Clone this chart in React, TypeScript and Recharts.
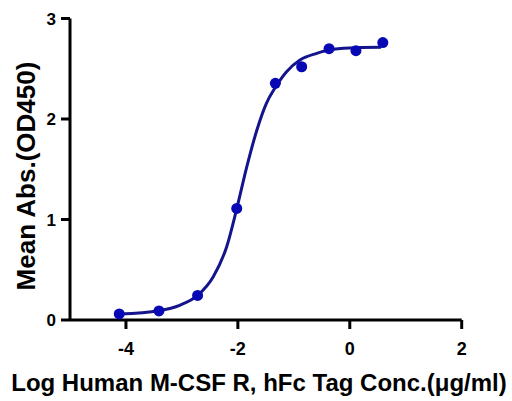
import React from "react";
import { ComposedChart, Line, Scatter, XAxis, YAxis, Label, ReferenceLine } from "recharts";

const pointX = [-4.12, -3.41, -2.72, -2.02, -1.33, -0.86, -0.37, 0.11, 0.59];
const pointY = [0.06, 0.09, 0.245, 1.11, 2.355, 2.52, 2.7, 2.68, 2.76];

const curveX = [-4.12, -3.41, -3.03, -2.72, -2.44, -2.2, -2.02, -1.84, -1.66, -1.49, -1.33, -1.13, -0.89, -0.59, -0.3, 0.12, 0.56];
const curveY = [0.06, 0.093, 0.149, 0.245, 0.431, 0.729, 1.108, 1.526, 1.891, 2.156, 2.315, 2.471, 2.587, 2.653, 2.693, 2.71, 2.713];

const xTicks = [-4, -2, 0, 2];
const yTicks = [0, 1, 2, 3];

const xTitle = "Log Human M-CSF R, hFc Tag Conc.(μg/ml)";
const yTitle = "Mean Abs.(OD450)";

const points = pointX.map((x, i) => ({ x, y: pointY[i] }));
const curve = curveX.map((x, i) => ({ x, y: curveY[i] }));

const FONT = "Arial, 'Liberation Sans', sans-serif";
const TICK = 9;
const XMARGIN = 13;
const YMARGIN = 5;

const XTick = (p: any) => (
  <g>
    <line x1={p.x} x2={p.x} y1={p.y - XMARGIN - TICK} y2={p.y - XMARGIN} stroke="#000" strokeWidth={3} />
    <text x={p.x} y={p.y} dy="0.71em" textAnchor="middle" fontSize={18} fontWeight="bold" fontFamily={FONT} fill="#000">
      {p.payload.value}
    </text>
  </g>
);

const YTick = (p: any) => (
  <g>
    <line x1={p.x + YMARGIN} x2={p.x + YMARGIN + TICK} y1={p.y} y2={p.y} stroke="#000" strokeWidth={3} />
    <text x={p.x} y={p.y} dy="0.355em" textAnchor="end" fontSize={17} fontWeight="bold" fontFamily={FONT} fill="#000">
      {p.payload.value}
    </text>
  </g>
);

export default function App() {
  return (
    <div style={{ position: "absolute", left: 0, top: 0, width: 512, height: 401, background: "#fff" }}>
      <ComposedChart
        width={512}
        height={401}
        margin={{ top: 18.5, right: 50.3, bottom: 31, left: 10 }}
      >
        <XAxis
          dataKey="x"
          type="number"
          domain={[-5, 2]}
          ticks={xTicks}
          allowDataOverflow
          height={50}
          tickSize={TICK}
          tickMargin={XMARGIN}
          axisLine={false}
          tickLine={false}
          tick={<XTick />}
        >
          <Label
            content={() => (
              <text x={259} y={391} textAnchor="middle" fontSize={24} fontWeight="bold" fontFamily={FONT} fill="#000">
                {xTitle}
              </text>
            )}
          />
        </XAxis>
        <YAxis
          type="number"
          domain={[0, 3]}
          ticks={yTicks}
          width={60}
          tickSize={TICK}
          tickMargin={YMARGIN}
          axisLine={false}
          tickLine={false}
          tick={<YTick />}
        >
          <Label
            content={() => (
              <text
                x={35}
                y={176}
                transform="rotate(-90 35 176)"
                textAnchor="middle"
                fontSize={26}
                fontWeight="bold"
                fontFamily={FONT}
                fill="#000"
              >
                {yTitle}
              </text>
            )}
          />
        </YAxis>
        <ReferenceLine y={0} stroke="#000" strokeWidth={3} ifOverflow="visible" />
        <ReferenceLine x={-5} stroke="#000" strokeWidth={3} ifOverflow="visible" />
        <Line
          data={curve}
          dataKey="y"
          type="monotone"
          stroke="#14148c"
          strokeWidth={3}
          dot={false}
          activeDot={false}
          isAnimationActive={false}
        />
        <Scatter
          data={points}
          dataKey="y"
          fill="#0808b4"
          isAnimationActive={false}
          shape={(p: any) => <circle cx={p.cx} cy={p.cy} r={5.5} fill="#0808b4" />}
        />
      </ComposedChart>
    </div>
  );
}
